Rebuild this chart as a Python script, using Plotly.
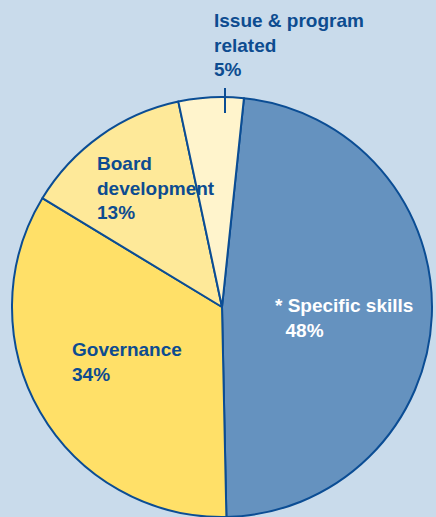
import plotly.graph_objects as go

# Share of activity by area
categories = ["Specific skills", "Governance", "Board development", "Issue & program related"]
shares = [48, 34, 13, 5]
label_names = ["* Specific skills", "Governance", "Board<br>development", "Issue & program<br>related"]

slice_colors = ["#6592bf", "#ffe068", "#fee999", "#fff4cc"]
edge_color = "#0b4d94"
text_dark = "#0d4c90"
bg = "#c9dbeb"

W, H = 436, 517
FONT = "Liberation Sans Narrow, Arial Narrow, Liberation Sans, Arial, sans-serif"


def px(x):
    return x / W


def py(y):
    return 1 - y / H


fig = go.Figure(
    go.Pie(
        labels=categories,
        values=shares,
        sort=False,
        direction="clockwise",
        rotation=6,
        marker=dict(colors=slice_colors, line=dict(color=edge_color, width=2)),
        textinfo="none",
        hoverinfo="label+percent",
        domain=dict(x=[px(12), px(432)], y=[py(517), py(97)]),
        showlegend=False,
    )
)

# label anchor points (left, top) in pixels
label_pos = [(273, 293), (70, 337), (95, 151), (212, 8)]
label_color = ["white", text_dark, text_dark, text_dark]

for name, val, (lx, ly), col in zip(label_names, shares, label_pos, label_color):
    pct = f"{val}%"
    if name.startswith("*"):
        pct = "  " + pct
    fig.add_annotation(
        x=px(lx), y=py(ly), xref="paper", yref="paper",
        xanchor="left", yanchor="top", align="left",
        text=f"<b>{name}<br>{pct}</b>",
        showarrow=False,
        font=dict(family=FONT, size=19, color=col),
    )

# short leader tick for the small slice
fig.add_shape(
    type="line", xref="paper", yref="paper",
    x0=px(225), x1=px(225), y0=py(88), y1=py(113),
    line=dict(color=edge_color, width=2),
)

fig.update_layout(
    width=W, height=H,
    margin=dict(l=0, r=0, t=0, b=0),
    paper_bgcolor=bg, plot_bgcolor=bg,
)

fig.write_html("out.html")
